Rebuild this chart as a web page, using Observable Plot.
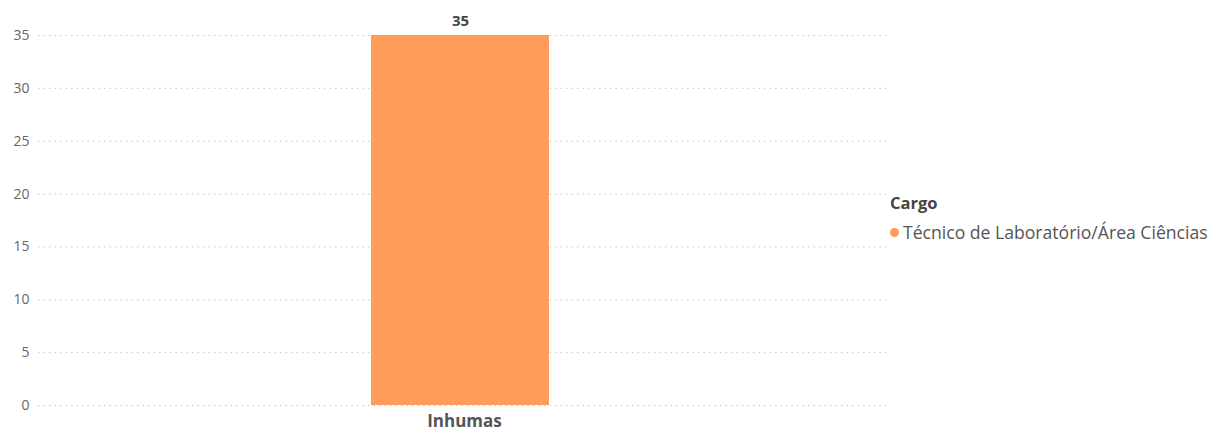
<!DOCTYPE html>
<html>
<head>
<meta charset="utf-8">
<script src="https://cdn.jsdelivr.net/npm/d3@7"></script>
<script src="https://cdn.jsdelivr.net/npm/@observablehq/plot@0.6"></script>
<style>
  html, body { margin: 0; padding: 0; background: #fff; }
  #wrap { position: relative; width: 1212px; height: 432px; font-family: "Open Sans", "Noto Sans", sans-serif; }
  #legend { position: absolute; left: 890px; top: 192px; color: #555; }
  #legend .title { font-weight: bold; font-size: 16.5px; color: #444; line-height: 22px; }
  #legend .item { font-size: 17.6px; line-height: 24px; margin-top: 6px; white-space: nowrap; }
  #legend .dot { display: inline-block; width: 9px; height: 9px; border-radius: 50%; margin-right: 4px; vertical-align: 2px; }
</style>
</head>
<body>
<div id="wrap"><div id="chart"></div><div id="legend"></div></div>
<script>
const categories = ["Inhumas"];
const values = [35];
const seriesName = "Técnico de Laboratório/Área Ciências";
const legendTitle = "Cargo";
const yTicks = [0, 5, 10, 15, 20, 25, 30, 35];
const barColor = "#FF9B5B";

const data = categories.map((c, i) => ({category: c, value: values[i], cargo: seriesName}));

const chart = Plot.plot({
  width: 1212,
  height: 432,
  marginLeft: 38,
  marginRight: 323,
  marginTop: 35,
  marginBottom: 27,
  style: {fontFamily: "'Open Sans', 'Noto Sans', sans-serif", background: "#fff"},
  x: {domain: categories, paddingInner: 0, paddingOuter: 1.878, label: null},
  y: {domain: [0, 35], ticks: yTicks, label: null},
  marks: [
    Plot.ruleY(yTicks, {stroke: "#c8c8c8", strokeDasharray: "1.5,4", strokeWidth: 1}),
    Plot.barY(data, {x: "category", y: "value", fill: barColor, dx: -4}),
    Plot.text(data, {x: "category", y: "value", text: d => String(d.value), dy: -14, dx: -4,
      fontWeight: "bold", fontSize: 15, fill: "#444"}),
    Plot.axisY({ticks: yTicks, tickSize: 0, tickPadding: 9, fontSize: 14, color: "#666"}),
    Plot.axisX({tickSize: 0, tickPadding: 9, fontSize: 17, fontWeight: "bold", color: "#555"})
  ]
});
document.getElementById("chart").appendChild(chart);

const legend = document.getElementById("legend");
legend.innerHTML = `<div class="title">${legendTitle}</div>` +
  `<div class="item"><span class="dot" style="background:${barColor}"></span>${seriesName}</div>`;
</script>
</body>
</html>
